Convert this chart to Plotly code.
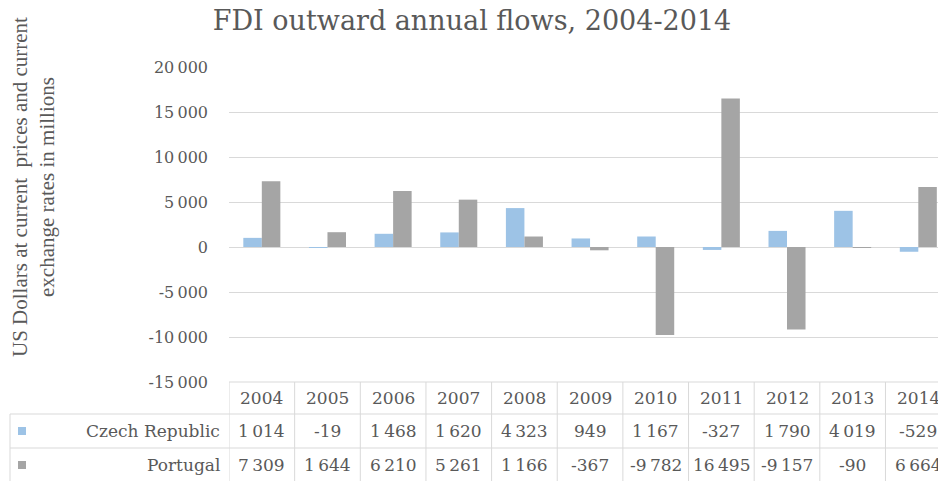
import plotly.graph_objects as go

years = ["2004", "2005", "2006", "2007", "2008", "2009", "2010", "2011", "2012", "2013", "2014"]
czech = [1014, -19, 1468, 1620, 4323, 949, 1167, -327, 1790, 4019, -529]
portugal = [7309, 1644, 6210, 5261, 1166, -367, -9782, 16495, -9157, -90, 6664]
series_names = ["Czech Republic", "Portugal"]
series_colors = ["#9DC3E6", "#A5A5A5"]
tick_values = [-15000, -10000, -5000, 0, 5000, 10000, 15000, 20000]

TXT = "#595959"
GRID = "#D9D9D9"
FONT = "DejaVu Serif"

W, H = 938, 481
L, T, B = 229, 67, 99
PW = W - L
PH = H - T - B


def fmt(v):
    s = f"{abs(v):,}".replace(",", "\u2009")
    return ("-" if v < 0 else "") + s


def py(pix):  # pixel y -> paper y
    return (H - B - pix) / PH


def px(pix):  # pixel x -> paper x
    return (pix - L) / PW


fig = go.Figure()
for name, vals, col in zip(series_names, [czech, portugal], series_colors):
    fig.add_trace(go.Bar(x=list(range(len(years))), y=vals, name=name,
                         marker=dict(color=col, line=dict(width=0))))

n = len(years)
shapes = []
shapes.append(dict(type="line", xref="paper", yref="paper", x0=0, x1=1, y0=py(382), y1=py(382),
                   line=dict(color=GRID, width=1)))
for yy in [414, 448]:
    shapes.append(dict(type="line", xref="paper", yref="paper", x0=px(10), x1=1, y0=py(yy), y1=py(yy),
                       line=dict(color=GRID, width=1)))
shapes.append(dict(type="line", xref="paper", yref="paper", x0=px(10), x1=px(10), y0=py(414), y1=py(481),
                   line=dict(color=GRID, width=1)))
for i in range(n):
    shapes.append(dict(type="line", xref="x", yref="paper", x0=i - 0.5, x1=i - 0.5, y0=py(382), y1=py(481),
                       line=dict(color=GRID, width=1)))
    if i == n - 1:
        shapes.append(dict(type="line", xref="x", yref="paper", x0=i + 0.5, x1=i + 0.5, y0=py(382), y1=py(481),
                           line=dict(color=GRID, width=1)))
for k, col in enumerate(series_colors):
    cy = [431, 465][k]
    shapes.append(dict(type="rect", xref="paper", yref="paper", x0=px(18), x1=px(26),
                       y0=py(cy + 4), y1=py(cy - 4), fillcolor=col, line=dict(width=0)))

ann = []
cell_font = dict(family=FONT, size=17, color=TXT)
for i, yr in enumerate(years):
    for text, yy in [(yr, 398), (fmt(czech[i]), 431), (fmt(portugal[i]), 465)]:
        ann.append(dict(x=i, y=py(yy), xref="x", yref="paper", text=text, showarrow=False,
                        xanchor="center", yanchor="middle", font=cell_font))
for k, name in enumerate(series_names):
    ann.append(dict(x=px(222), y=py([431, 465][k]), xref="paper", yref="paper", text=name,
                    showarrow=False, xanchor="right", yanchor="middle", font=cell_font))
ann.append(dict(x=px(33), y=py(187), xref="paper", yref="paper", textangle=-90, showarrow=False,
                xanchor="center", yanchor="middle",
                text="US Dollars at current  prices and current<br>exchange rates in millions",
                font=dict(family="Liberation Serif", size=21, color=TXT)))

fig.update_layout(
    width=W, height=H,
    margin=dict(l=L, r=0, t=T, b=B, pad=0),
    paper_bgcolor="white", plot_bgcolor="white",
    title=dict(text="FDI outward annual flows, 2004-2014", x=472 / W, xanchor="center",
               y=1 - 21 / H, yanchor="middle", font=dict(family=FONT, size=27, color=TXT)),
    showlegend=False,
    barmode="group", bargap=0.436, bargroupgap=0,
    shapes=shapes, annotations=ann,
    xaxis=dict(range=[-0.5, 10.3], showticklabels=False, showgrid=False, zeroline=False,
               showline=False, ticks=""),
    yaxis=dict(range=[-15000, 20000], tickvals=tick_values, ticktext=[fmt(v) for v in tick_values],
               tickfont=dict(family=FONT, size=16, color=TXT), gridcolor=GRID, gridwidth=1,
               zeroline=True, zerolinecolor=GRID, zerolinewidth=1, showline=False,
               ticks="", ticklabelstandoff=20),
)

fig.write_html("out.html")
